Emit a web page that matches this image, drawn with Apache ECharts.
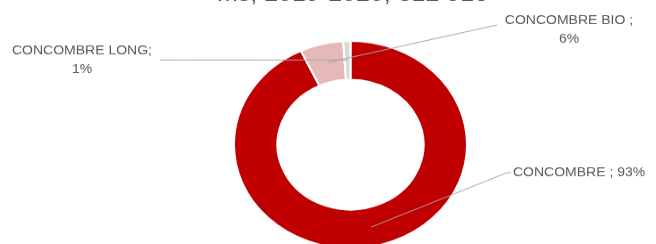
<!DOCTYPE html>
<html>
<head>
<meta charset="utf-8">
<script src="https://cdn.jsdelivr.net/npm/echarts@6/dist/echarts.min.js"></script>
<style>
    html, body { margin:0; padding:0; background:#fff; overflow:hidden; }
    #wrap { width:656px; height:244px; overflow:hidden; }
    /* le graphique d'origine est un peu aplati verticalement */
    #pie_chart { width:656px; height:274px; transform:scaleY(0.89); transform-origin:0 0; }
</style>
</head>
<body>
<div id="wrap"><div id="pie_chart"></div></div>
<script>
    var categories = ['CONCOMBRE', 'CONCOMBRE BIO', 'CONCOMBRE LONG'];
    var shares = [93, 6, 1];
    var label_sep = [' ; ', ' ;\n', ';\n'];
    var colors = ['#c00000', '#e6b9b8', '#d9d9d9'];
    var title_text = 'ms, 2019-2020, 312 513';

    var center = [350.5, 162.4];
    var font = 'Liberation Sans, Arial, sans-serif';
    // placement des etiquettes (comme dans le graphique Excel)
    var label_place = [
        {x:513, y:194, align:'left', line:[[507,194],[511,194]]},
        {x:569, y:34, align:'center', line:[[497,28]]},
        {x:82, y:68, align:'center', line:[[160,67.4]]}
    ];

    var pie_data = [];
    for (var i = 0; i < categories.length; i++) {
        pie_data.push({name:categories[i], value:shares[i], itemStyle:{color:colors[i]}});
    }

    var chart = echarts.init(document.getElementById('pie_chart'));
    chart.setOption({
        animation:false,
        title:{
            text:title_text,
            left:212,
            top:-23,
            textStyle:{color:'#595959', fontSize:25, fontWeight:'normal', fontFamily:font}
        },
        series:[
            {//anneau
                type:'pie',
                z:2,
                center:center,
                radius:[73, 116.5],
                startAngle:90,
                clockwise:true,
                silent:true,
                label:{show:false},
                labelLine:{show:false},
                itemStyle:{borderColor:'#fff', borderWidth:2},
                emphasis:{disabled:true},
                data:pie_data
            },
            {//etiquettes, ancrees au milieu de l'anneau
                type:'pie',
                z:5,
                center:center,
                radius:[0, 95],
                startAngle:90,
                clockwise:true,
                silent:true,
                avoidLabelOverlap:false,
                itemStyle:{color:'rgba(0,0,0,0)', borderWidth:0},
                emphasis:{disabled:true},
                label:{
                    show:true,
                    position:'outside',
                    color:'#595959',
                    fontSize:14,
                    lineHeight:21,
                    fontFamily:font,
                    formatter:function(params){
                        return params.name + label_sep[params.dataIndex] + params.value + '%';
                    }
                },
                labelLine:{show:true, length:5, length2:5, lineStyle:{color:'#a6a6a6', width:1}},
                labelLayout:function(params){
                    var p = label_place[params.dataIndex];
                    var a = params.labelLinePoints ? params.labelLinePoints[0] : p.line[0];
                    return {
                        x:p.x,
                        y:p.y,
                        align:p.align,
                        verticalAlign:'middle',
                        labelLinePoints:[a].concat(p.line)
                    };
                },
                data:pie_data.map(function(d){ return {name:d.name, value:d.value}; })
            }
        ]
    });
</script>
</body>
</html>
